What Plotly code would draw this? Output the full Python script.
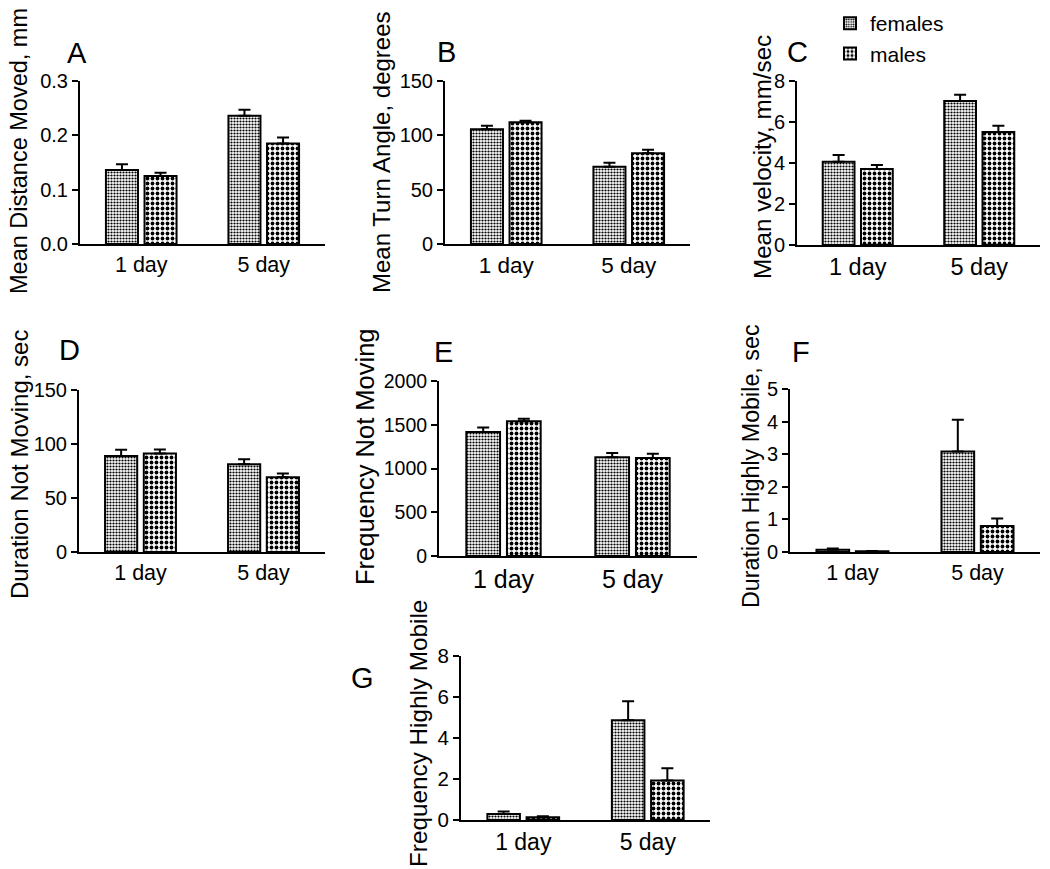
import plotly.graph_objects as go

W, H = 1050, 869

categories = ["1 day", "5 day"]

# panel data: females mean, females SEM, males mean, males SEM
A_fem = [0.136, 0.236]; A_fem_err = [0.011, 0.011]
A_mal = [0.125, 0.185]; A_mal_err = [0.006, 0.011]

B_fem = [105.5, 71.1]; B_fem_err = [3.4, 3.7]
B_mal = [112.0, 83.5]; B_mal_err = [1.5, 3.3]

C_fem = [4.06, 7.02]; C_fem_err = [0.33, 0.31]
C_mal = [3.71, 5.51]; C_mal_err = [0.19, 0.31]

D_fem = [89.0, 81.3]; D_fem_err = [5.6, 4.6]
D_mal = [91.2, 69.3]; D_mal_err = [3.7, 3.4]

E_fem = [1417, 1128]; E_fem_err = [53, 49]
E_mal = [1539, 1120]; E_mal_err = [31, 50]

F_fem = [0.07, 3.08]; F_fem_err = [0.04, 0.98]
F_mal = [0.02, 0.80]; F_mal_err = [0.01, 0.23]

G_fem = [0.29, 4.87]; G_fem_err = [0.12, 0.92]
G_mal = [0.13, 1.93]; G_mal_err = [0.05, 0.59]

titles = ["Mean Distance Moved, mm", "Mean Turn Angle, degrees", "Mean velocity, mm/sec",
          "Duration Not Moving, sec", "Frequency Not Moving", "Duration Highly Mobile, sec",
          "Frequency Highly Mobile"]
letters = ["A", "B", "C", "D", "E", "F", "G"]
y_max = [0.3, 150, 8, 150, 2000, 5, 8]
y_dtick = [0.1, 50, 2, 50, 500, 1, 2]

panels = [
    (A_fem, A_fem_err, A_mal, A_mal_err),
    (B_fem, B_fem_err, B_mal, B_mal_err),
    (C_fem, C_fem_err, C_mal, C_mal_err),
    (D_fem, D_fem_err, D_mal, D_mal_err),
    (E_fem, E_fem_err, E_mal, E_mal_err),
    (F_fem, F_fem_err, F_mal, F_mal_err),
    (G_fem, G_fem_err, G_mal, G_mal_err),
]

# pixel boxes of plot areas: (x0, x1, ytop, ybottom)
boxes = [
    (80, 325, 81, 244),
    (445, 690, 81, 244),
    (797, 1040, 81, 245),
    (79, 325, 390, 552),
    (439, 697, 381, 556),
    (790, 1040, 389, 552),
    (461, 710, 656, 820),
]
# axis title centers (x, y) in pixels
title_pos = [(19, 151), (382, 152), (762, 157), (19, 465), (365, 457), (751, 466), (418, 734)]
letter_pos = [(77, 53), (446, 52), (797, 52), (69, 350), (443, 352), (801, 352), (362, 678)]
# per-panel font sizes (panels were scaled slightly differently in the composite)
fs_ytick = [20, 20, 20, 20, 19.5, 20, 20.5]
fs_xtick = [21.5, 22.5, 23.5, 21.5, 25, 21.5, 23]
fs_title = [23.5, 24, 24.2, 24, 25.5, 23.3, 24.3]


def px(x):
    return x / W


def py(y):
    return 1 - y / H


FONT = "Liberation Sans, Arial, sans-serif"
FS_LEG = 21

fig = go.Figure()
layout = dict(
    width=W, height=H, autosize=False,
    margin=dict(l=0, r=0, t=0, b=0, autoexpand=False),
    paper_bgcolor="white", plot_bgcolor="white",
    barmode="group", bargap=0.37, bargroupgap=0.17,
    font=dict(family=FONT, size=20, color="black"),
    showlegend=True,
    legend=dict(x=px(830), y=py(3), xanchor="left", yanchor="top",
                bgcolor="rgba(0,0,0,0)", font=dict(size=FS_LEG), tracegroupgap=0,
                itemwidth=30),
)

fem_pattern = dict(shape=".", size=3, solidity=0.43, fgcolor="black", bgcolor="white", fillmode="replace")
mal_pattern = dict(shape=".", size=5, solidity=0.45, fgcolor="black", bgcolor="white", fillmode="replace")

annotations = []
for i, (fem, fem_err, mal, mal_err) in enumerate(panels):
    n = i + 1
    xa = "x" if n == 1 else f"x{n}"
    ya = "y" if n == 1 else f"y{n}"
    for name, vals, errs, pat in (("females", fem, fem_err, fem_pattern),
                                  ("males", mal, mal_err, mal_pattern)):
        fig.add_trace(go.Bar(
            x=categories, y=vals, name=name, legendgroup=name, showlegend=(n == 1),
            xaxis=xa, yaxis=ya,
            marker=dict(color="white", pattern=pat, line=dict(color="black", width=2)),
            error_y=dict(type="data", array=errs, arrayminus=[0] * len(errs), symmetric=False,
                         color="black", thickness=2, width=6),
            hoverinfo="skip",
        ))
    x0, x1, yt, yb = boxes[i]
    key_x = "xaxis" if n == 1 else f"xaxis{n}"
    key_y = "yaxis" if n == 1 else f"yaxis{n}"
    layout[key_x] = dict(
        domain=[px(x0), px(x1)], anchor=ya, range=[-0.5, 1.5], automargin=False,
        showline=True, linecolor="black", linewidth=2, ticks="", showgrid=False,
        zeroline=False, tickfont=dict(size=fs_xtick[i]), fixedrange=True,
    )
    layout[key_y] = dict(
        domain=[py(yb), py(yt)], anchor=xa, range=[0, y_max[i]], automargin=False,
        dtick=y_dtick[i], tick0=0, showline=True, linecolor="black", linewidth=2,
        ticks="outside", ticklen=6, tickwidth=2, tickcolor="black", showgrid=False,
        zeroline=False, tickfont=dict(size=fs_ytick[i]), fixedrange=True,
        tickformat=".1f" if i == 0 else None,
    )
    tx, ty = title_pos[i]
    annotations.append(dict(text=titles[i], x=px(tx), y=py(ty), xref="paper", yref="paper",
                            textangle=-90, showarrow=False, xanchor="center", yanchor="middle",
                            font=dict(size=fs_title[i])))
    lx, ly = letter_pos[i]
    annotations.append(dict(text=letters[i], x=px(lx), y=py(ly), xref="paper", yref="paper",
                            showarrow=False, xanchor="center", yanchor="middle",
                            font=dict(size=29)))

layout["annotations"] = annotations
fig.update_layout(**layout)
fig.write_html(
    "out.html",
    config={"displayModeBar": False, "staticPlot": True},
    post_script=("document.body.style.margin='0';"
                 "document.body.style.overflow='hidden';"
                 "document.documentElement.style.overflow='hidden';"),
)
